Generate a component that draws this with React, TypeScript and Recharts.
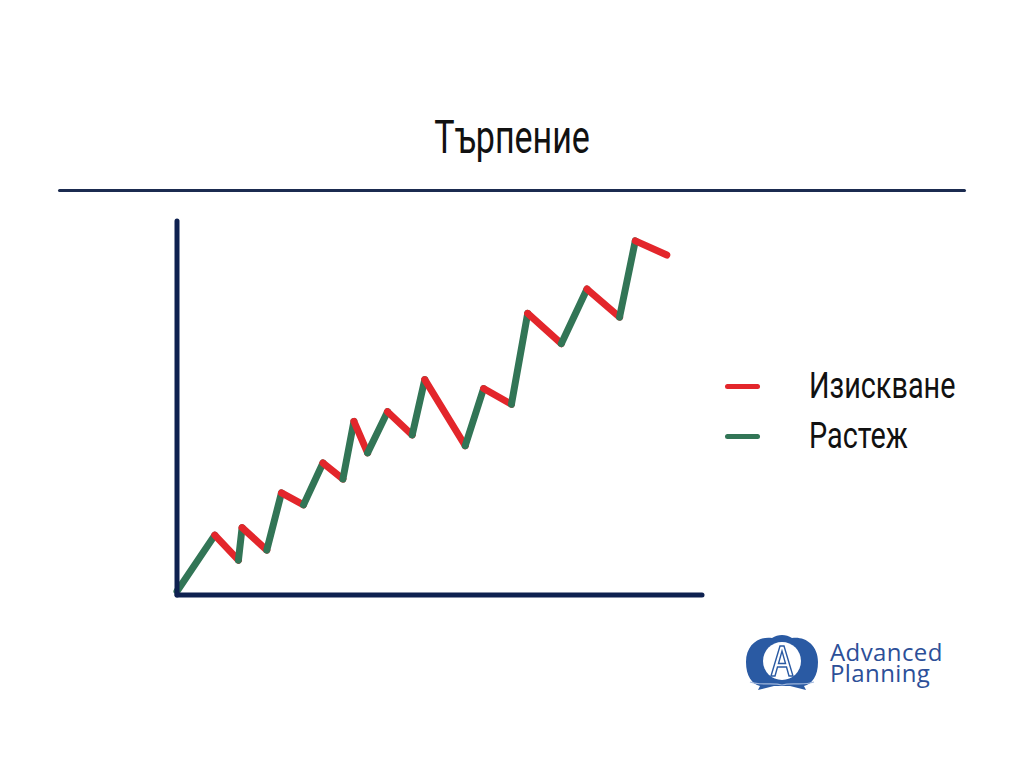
import { LineChart, Line, XAxis, YAxis } from "recharts";

// Time (x) and level (y) of every vertex of the zigzag
const timeline = [0, 7.2, 11.7, 12.4, 17.1, 19.9, 24.1, 27.8, 31.6, 33.7, 36.3, 40.1, 44.8, 47.2, 54.9, 58.4, 63.7, 66.8, 73.2, 78.1, 84.3, 87.3, 93.3];
const level = [1, 16.0, 9.3, 18.0, 12.0, 27.3, 24.1, 35.3, 31.0, 46.4, 38.0, 49.0, 42.8, 57.6, 39.9, 55.2, 51.0, 75.3, 67.2, 81.8, 74.3, 94.7, 90.9];

const legendItems = [
  { key: "down", label: "Изискване" },
  { key: "up", label: "Растеж" },
];

const COLORS: Record<string, string> = {
  down: "#e3262b",
  up: "#327556",
};
const NAVY = "#0e2150";
const CONDENSED = "Roboto, 'Noto Sans', sans-serif";

interface Segment {
  kind: "up" | "down";
  data: { x: number; y: number }[];
}

const points = timeline.map((x, i) => ({ x, y: level[i] }));

const segments: Segment[] = timeline.slice(0, -1).map((x, i) => ({
  kind: level[i + 1] > level[i] ? "up" : "down",
  data: [
    { x, y: level[i] },
    { x: timeline[i + 1], y: level[i + 1] },
  ],
}));

function Logo() {
  return (
    <svg width={220} height={64} viewBox="0 0 220 64" style={{ position: "absolute", left: 742, top: 632 }}>
      <path d="M4 30 C4 12 18 4 30 6 C36 2 44 2 50 6 C62 4 76 12 76 30 C76 44 70 52 62 54 L64 58 L48 54 L32 54 L16 58 L18 54 C10 52 4 44 4 30 Z" fill="#2a5aa3" />
      <path d="M8 50 C20 54 30 50 40 53 C50 50 60 54 72 50" fill="none" stroke="#9fb6dc" strokeWidth={1.2} />
      <circle cx={40} cy={29} r={19} fill="#fff" />
      <path d="M29 44 L38 14 L42 14 L51 44 L47 44 L44.5 35 L35.5 35 L33 44 Z M36.5 31.5 L43.5 31.5 L40 19 Z" fill="#fff" stroke="#2a5aa3" strokeWidth={1.4} />
      <text fontFamily="'Open Sans', sans-serif" fontSize={24} fill="#2c4f98" letterSpacing={0.4}>
        <tspan x={88} y={29}>Advanced</tspan>
        <tspan x={88} y={50}>Planning</tspan>
      </text>
    </svg>
  );
}

export default function App() {
  return (
    <div style={{ position: "absolute", left: 0, top: 0, width: 1024, height: 768, background: "#fff", overflow: "hidden" }}>
      <div style={{ position: "absolute", left: 0, top: 110, width: 1024, textAlign: "center" }}>
        <span
          style={{
            display: "inline-block",
            fontFamily: CONDENSED,
            fontSize: 46,
            color: "#111",
            transform: "scaleX(0.74)",
          }}
        >
          Търпение
        </span>
      </div>
      <div style={{ position: "absolute", left: 58, top: 189, width: 908, height: 3, background: "#1b2b50", borderRadius: 2 }} />

      <LineChart width={1024} height={768} data={points} margin={{ top: 221, right: 322, bottom: 172, left: 176 }}>
        <XAxis
          dataKey="x"
          type="number"
          domain={[0, 100]}
          tick={false}
          tickLine={false}
          height={1}
          axisLine={{ stroke: NAVY, strokeWidth: 5, strokeLinecap: "round" }}
        />
        <YAxis
          dataKey="y"
          type="number"
          domain={[0, 100]}
          tick={false}
          tickLine={false}
          width={1}
          axisLine={{ stroke: NAVY, strokeWidth: 5, strokeLinecap: "round" }}
        />
        {segments.map((s, i) => (
          <Line
            key={i}
            data={s.data}
            dataKey="y"
            type="linear"
            stroke={COLORS[s.kind]}
            strokeWidth={7}
            strokeLinecap="round"
            strokeLinejoin="round"
            dot={false}
            activeDot={false}
            legendType="none"
            isAnimationActive={false}
          />
        ))}
      </LineChart>

      <div style={{ position: "absolute", left: 725, top: 361 }}>
        {legendItems.map((it) => (
          <div key={it.key} style={{ display: "flex", alignItems: "center", height: 50 }}>
            <span style={{ width: 35, height: 5, borderRadius: 3, background: COLORS[it.key], display: "inline-block" }} />
            <span
              style={{
                marginLeft: 49,
                display: "inline-block",
                fontFamily: CONDENSED,
                fontSize: 36,
                color: "#111",
                transform: "scaleX(0.8)",
                transformOrigin: "left center",
              }}
            >
              {it.label}
            </span>
          </div>
        ))}
      </div>

      <Logo />
    </div>
  );
}
